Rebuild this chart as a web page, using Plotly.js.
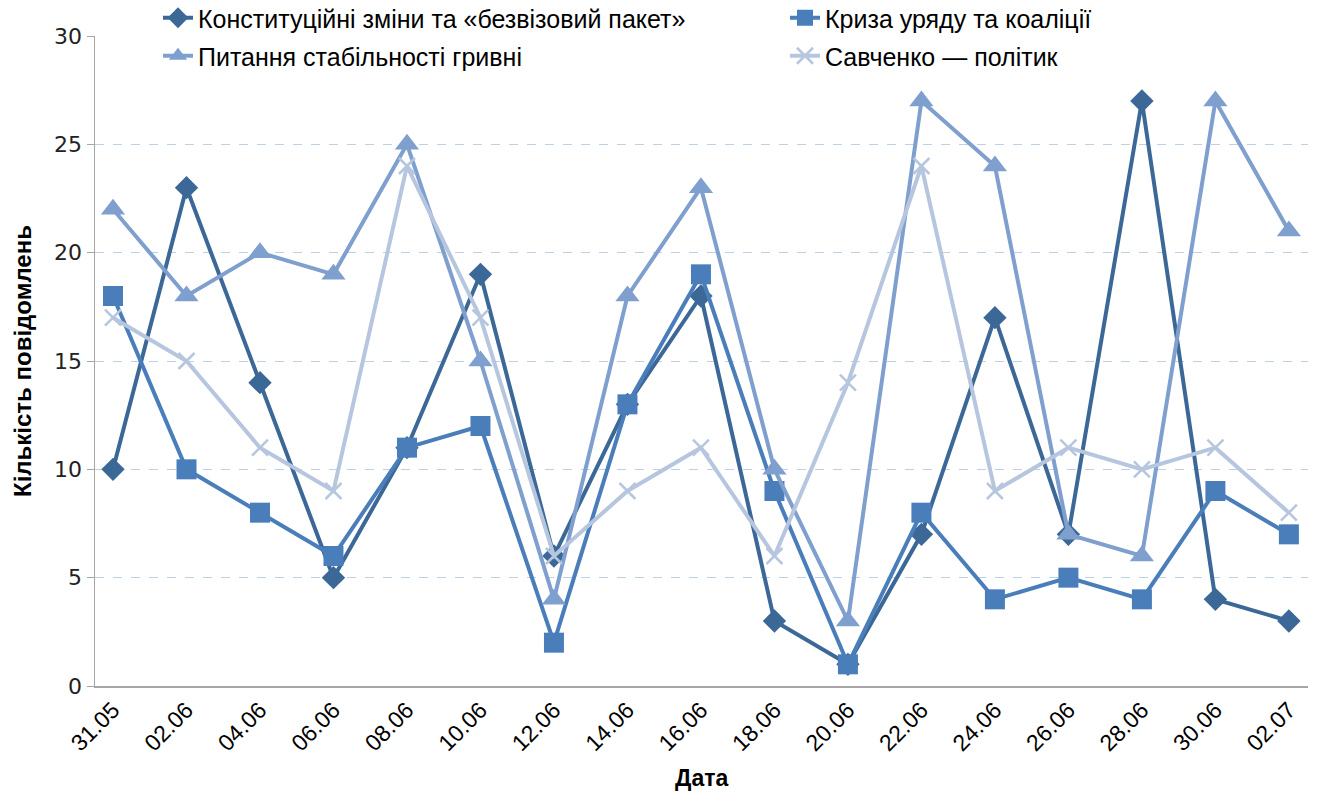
<!DOCTYPE html>
<html>
<head>
<meta charset="utf-8">
<script src="https://cdn.plot.ly/plotly-3.0.1.min.js"></script>
<style>
  html, body { margin: 0; padding: 0; background: #fff; }
  #chart { width: 1318px; height: 796px; }
</style>
</head>
<body>
<div id="chart"></div>
<script>
const dates = ['31.05', '02.06', '04.06', '06.06', '08.06', '10.06', '12.06', '14.06', '16.06',
               '18.06', '20.06', '22.06', '24.06', '26.06', '28.06', '30.06', '02.07'];

const constitution = [10, 23, 14, 5, 11, 19, 6, 13, 18, 3, 1, 7, 17, 7, 27, 4, 3];
const crisis       = [18, 10, 8, 6, 11, 12, 2, 13, 19, 9, 1, 8, 4, 5, 4, 9, 7];
const hryvnia      = [22, 18, 20, 19, 25, 15, 4, 18, 23, 10, 3, 27, 24, 7, 6, 27, 21];
const savchenko    = [17, 15, 11, 9, 24, 17, 6, 9, 11, 6, 14, 24, 9, 11, 10, 11, 8];

const names = [
    'Конституційні зміни та «безвізовий пакет»',
    'Криза уряду та коаліції',
    'Питання стабільності гривні',
    'Савченко — політик'
];

const FONT = 'Liberation Sans, Arial, sans-serif';

function series(y, name, color, symbol, size, legend) {
    return {
        x: dates, y: y, name: name, legend: legend,
        type: 'scatter', mode: 'lines+markers',
        line: { color: color, width: 4 },
        marker: { color: color, symbol: symbol, size: size,
                  line: { color: color, width: symbol === 'x-thin' ? 2.5 : 0 } }
    };
}

const data = [
    series(constitution, names[0], '#3c6898', 'diamond', 18, 'legend'),
    series(crisis, names[1], '#4a7ebb', 'square', 20, 'legend2'),
    series(hryvnia, names[2], '#7f9fce', 'triangle-up', 21, 'legend3'),
    series(savchenko, names[3], '#b7c6df', 'x-thin', 16, 'legend4')
];

// one legend per entry so each sits where the original puts it
function legendAt(x, y) {
    return {
        x: x, y: y, xref: 'container', yref: 'container',
        xanchor: 'left', yanchor: 'middle',
        font: { family: FONT, size: 25, color: '#000' },
        bgcolor: 'rgba(0,0,0,0)', borderwidth: 0
    };
}

const layout = {
    width: 1318, height: 796,
    margin: { l: 95, r: 10, t: 36, b: 110, autoexpand: false },
    paper_bgcolor: '#fff', plot_bgcolor: '#fff',
    showlegend: true,
    legend:  legendAt(158 / 1318, 1 - 18 / 796),
    legend2: legendAt(785 / 1318, 1 - 18 / 796),
    legend3: legendAt(158 / 1318, 1 - 56 / 796),
    legend4: legendAt(785 / 1318, 1 - 56 / 796),
    xaxis: {
        type: 'category',
        range: [-0.245, 16.26],
        tickangle: -45,
        tickfont: { family: FONT, size: 23, color: '#000' },
        showgrid: false, zeroline: false,
        showline: true, linecolor: '#a6a6a6', linewidth: 1.5,
        ticks: ''
    },
    yaxis: {
        range: [0, 30], dtick: 5,
        tickfont: { family: 'DejaVu Sans, sans-serif', size: 22, color: '#222' },
        showgrid: true, gridcolor: '#bcd0ea', griddash: 'dash', gridwidth: 1,
        zeroline: false,
        showline: true, linecolor: '#a6a6a6', linewidth: 1.5,
        ticks: 'outside', ticklen: 7, tickcolor: '#a6a6a6'
    },
    annotations: [
        { text: '<b>Кількість повідомлень</b>', textangle: -90,
          xref: 'paper', yref: 'paper', x: (22 - 95) / 1213, y: 0.5,
          xanchor: 'center', yanchor: 'middle', showarrow: false,
          font: { family: FONT, size: 24, color: '#000' } },
        { text: '<b>Дата</b>',
          xref: 'paper', yref: 'paper', x: 0.5, y: (686 - 778) / 650,
          xanchor: 'center', yanchor: 'middle', showarrow: false,
          font: { family: FONT, size: 23, color: '#000' } }
    ]
};

Plotly.newPlot('chart', data, layout, { displayModeBar: false, staticPlot: true });
</script>
</body>
</html>
